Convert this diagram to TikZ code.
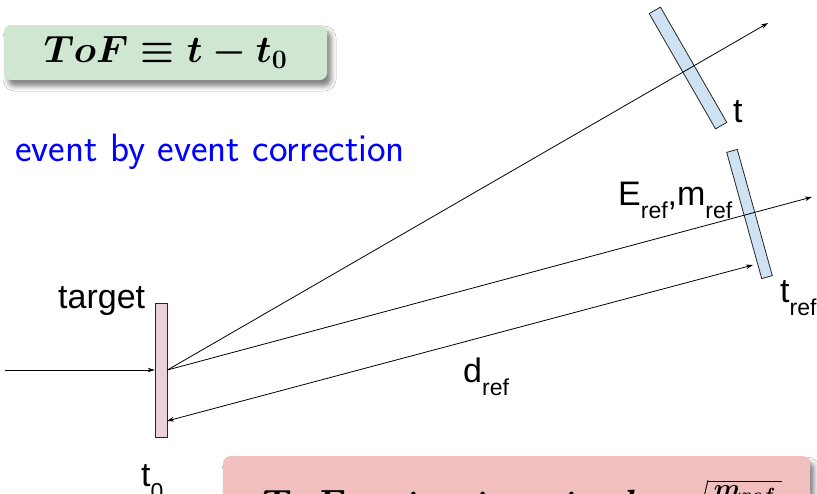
\RequirePackage{fix-cm}
\documentclass[tikz,border=0pt]{standalone}
\usepackage{fontspec}
\usepackage{amsmath}
\newfontfamily\lab{Liberation Sans}
\usetikzlibrary{arrows.meta,shadows.blur}
\definecolor{boxgreen}{RGB}{207,230,208}
\definecolor{boxpink}{RGB}{241,191,190}
\definecolor{detblue}{RGB}{207,226,243}
\definecolor{tgtpink}{RGB}{234,209,220}
\newcommand\lsub[1]{\raisebox{-13pt}{\fontsize{23}{23}\selectfont #1}}
\tikzset{
  ray/.style={line width=0.8pt, -{Stealth[length=7pt,width=4.5pt]}},
  dray/.style={line width=0.8pt, {Stealth[length=7pt,width=4.5pt]}-{Stealth[length=7pt,width=4.5pt]}},
  detector/.style={draw=black!85, line width=0.8pt, fill=detblue, inner sep=0pt},
  lbl/.style={font=\lab\fontsize{34}{40}\selectfont, inner sep=0pt, anchor=base west},
  formbox/.style={rounded corners=7pt, inner sep=0pt,
    blur shadow={shadow xshift=4pt, shadow yshift=-6pt, shadow blur radius=5pt, shadow opacity=50}},
  formula/.style={font=\fontsize{38}{42}\selectfont\boldmath, inner sep=0pt}
}
\begin{document}
\begin{tikzpicture}[x=1pt,y=-1pt]
\clip (0,0) rectangle (817,493);
\fill[white] (0,0) rectangle (817,493);
% formula boxes
\node[formbox, fill=boxgreen, minimum width=323pt, minimum height=55pt] (topbox) at (165.5,52.5) {};
\node[formula] (topform) at (topbox.center) {$ToF \equiv t - t_0$};
\node[formbox, fill=boxpink, minimum width=587pt, minimum height=90pt, anchor=north west] (botbox) at (223,456) {};
\node[formula, anchor=base west] (botform) at (261,516)
  {$ToF \equiv t - t_0 = t{-}d_{ref}\sqrt{\frac{m_{ref}}{2E_{ref}}}$};
% text
\node[font=\sffamily\fontsize{39.5}{44}\selectfont, text=blue, inner sep=0pt, anchor=base west] (note) at (15,161) {event by event correction};
% detectors and target
\node[detector, minimum width=133pt, minimum height=13pt, rotate=-60.1] (det1) at (688,68) {};
\node[detector, minimum width=131pt, minimum height=11pt, rotate=-74.5] (det2) at (749.5,214) {};
\node[draw=black!85, line width=0.8pt, fill=tgtpink, minimum width=12pt, minimum height=134pt, inner sep=0pt] (tgt) at (161,370) {};
% coordinates
\coordinate (src) at (5,370);
\coordinate (tlow) at (167,421);
\coordinate (e1) at (768,23);
\coordinate (e2) at (812,197);
\coordinate (hit) at (753,265);
% rays
\draw[ray] (src) -- (tgt.west);
\draw[ray] (tgt.east) -- (e1);
\draw[ray] (tgt.east) -- (e2);
\draw[dray] (tlow) -- (hit);
% labels
\node[lbl] (lt) at (733,122) {t};
\node[lbl] (lem) at (618,205) {E\lsub{ref},m\lsub{ref}};
\node[lbl] (ltref) at (780,302) {t\lsub{ref}};
\node[lbl] (ltarget) at (58,308) {target};
\node[lbl] (ldref) at (463,382) {d\lsub{ref}};
\node[lbl] (lt0) at (141,486) {t\lsub{0}};
\end{tikzpicture}
\end{document}
